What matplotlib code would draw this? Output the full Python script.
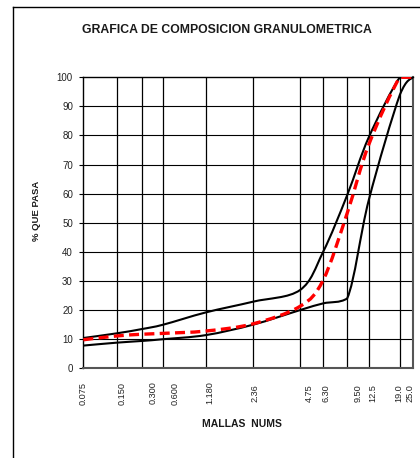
import matplotlib.pyplot as plt
from matplotlib.path import Path
from matplotlib.patches import PathPatch
from matplotlib.lines import Line2D

# tamices y su posicion en el eje horizontal de la grafica
mallas = ['0.075', '0.150', '0.300', '0.600', '1.180', '2.36',
          '4.75', '6.30', '9.50', '12.5', '19.0', '25.0']
pos_malla = [0, 10.1, 17.9, 24.3, 37.2, 51.6, 65.8, 72.8, 80.1, 86.7, 96.1, 100]

# % que pasa
lim_superior = [10.4, 12.0, 13.5, 15.0, 19.2, 22.9, 26.9, 40.0, 59.5, 79.5, 100, 100]
muestra = [9.8, 11.1, 11.7, 12.0, 12.8, 15.3, 21.3, 30.3, 53.3, 77.0, 100, 100]
lim_inferior = [7.8, 8.8, 9.4, 10.0, 11.4, 15.0, 20.0, 22.3, 24.0, 58.0, 94.0, 100]

# donde van escritas las etiquetas de las mallas
pos_etiqueta = [0, 11.7, 21.2, 27.8, 38.5, 52.0, 68.6, 73.6, 83.4, 87.9, 95.8, 99.2]

fuente = ['Liberation Sans', 'DejaVu Sans']


def curva_suave(x, y):
    # linea suavizada (bezier con puntos de control catmull-rom),
    # limitando los puntos de control para que la curva no se pase
    n = len(x)
    verts = [(x[0], y[0])]
    codes = [Path.MOVETO]
    for i in range(n - 1):
        x0, y0 = (x[i - 1], y[i - 1]) if i > 0 else (x[i], y[i])
        x1, y1 = x[i], y[i]
        x2, y2 = x[i + 1], y[i + 1]
        x3, y3 = (x[i + 2], y[i + 2]) if i + 2 < n else (x2, y2)
        lo, hi = min(y1, y2), max(y1, y2)
        c1 = (x1 + (x2 - x0) / 6.0, min(max(y1 + (y2 - y0) / 6.0, lo), hi))
        c2 = (x2 - (x3 - x1) / 6.0, min(max(y2 - (y3 - y1) / 6.0, lo), hi))
        verts += [c1, c2, (x2, y2)]
        codes += [Path.CURVE4] * 3
    return Path(verts, codes)


fig = plt.figure(figsize=(4.2, 4.58), dpi=100)
ax = fig.add_axes([0.1984, 0.1959, 0.7843, 0.6354])

ax.set_xlim(0, 100)
ax.set_ylim(0, 100)

# cuadricula
for y in range(10, 100, 10):
    ax.axhline(y, color='black', lw=0.8, zorder=1)
for x in pos_malla[1:-1]:
    ax.axvline(x, color='black', lw=0.9, zorder=1)

ax.add_patch(PathPatch(curva_suave(pos_malla, lim_superior), fill=False,
                       edgecolor='black', lw=1.5, zorder=3))
ax.add_patch(PathPatch(curva_suave(pos_malla, lim_inferior), fill=False,
                       edgecolor='black', lw=1.5, zorder=3))
ax.add_patch(PathPatch(curva_suave(pos_malla, muestra), fill=False,
                       edgecolor='#ff0000', lw=2.4, linestyle=(0, (3.0, 1.6)),
                       zorder=4))

ax.set_xticks([])
ax.set_yticks(range(0, 101, 10))
ax.tick_params(axis='y', length=3, width=0.8, pad=4.5, labelsize=7,
               labelcolor='#222222')
for lab in ax.get_yticklabels():
    lab.set_family(fuente)

for p, m in zip(pos_etiqueta, mallas):
    ax.text(p, -0.085, m, transform=ax.get_xaxis_transform(), rotation=90,
            ha='center', va='center', fontsize=6.6, color='#222222',
            family=fuente)

for s in ['top', 'left']:
    ax.spines[s].set_color('black')
    ax.spines[s].set_linewidth(1.0)
for s in ['bottom', 'right']:
    ax.spines[s].set_color('#555555')
    ax.spines[s].set_linewidth(1.5)

ax.text(-0.1415, 0.542, '% QUE PASA', transform=ax.transAxes, rotation=90,
        ha='center', va='center', fontsize=6.8, fontweight='bold',
        color='#1a1a1a', family=fuente)
fig.text(242 / 420, 0.0742, 'MALLAS  NUMS', ha='center', va='center',
         fontsize=7.5, fontweight='bold', color='#1a1a1a', family=fuente)
fig.text(0.54, 0.9338, 'GRAFICA DE COMPOSICION GRANULOMETRICA', ha='center',
         va='center', fontsize=8.8, fontweight='bold', color='#1a1a1a',
         family=fuente)

# borde del area del grafico
fig.add_artist(Line2D([0.0317, 0.0317], [0.0, 0.9858], color='black', lw=1.0))
fig.add_artist(Line2D([0.0317, 1.0], [0.9858, 0.9858], color='black', lw=1.0))

fig.savefig('out.png', dpi=100)
